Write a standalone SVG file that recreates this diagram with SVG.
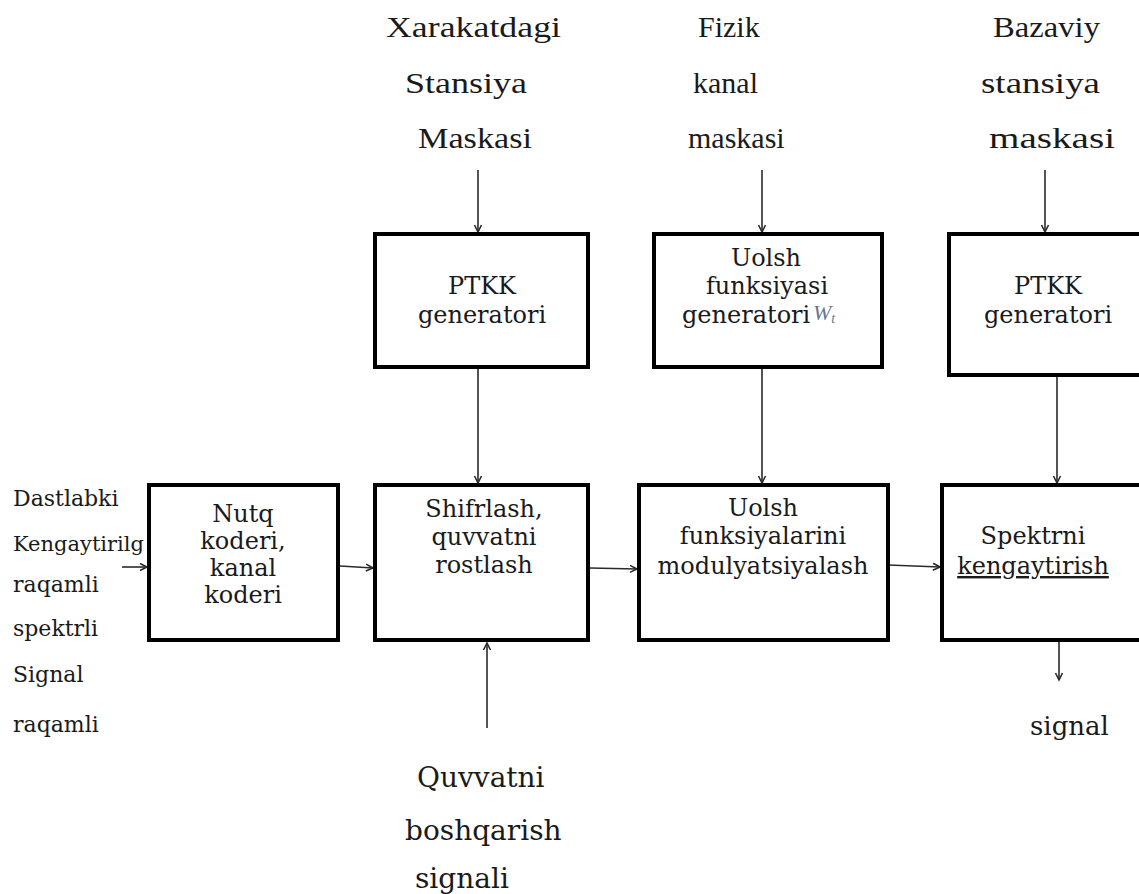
<svg xmlns="http://www.w3.org/2000/svg" width="1139" height="894" viewBox="0 0 1139 894">
<defs>
<style>
.box{fill:#fff;stroke:#000;stroke-width:4}
.bt{font-family:"DejaVu Serif","Liberation Serif",serif;font-size:24px;fill:#1a1a1a;text-anchor:middle}
.lt{font-family:"DejaVu Serif","Liberation Serif",serif;font-size:22px;fill:#1a1a1a}
.tt{font-family:"Liberation Serif","Times New Roman",serif;font-size:30px;fill:#1a1a1a}
.qt{font-family:"DejaVu Serif","Liberation Serif",serif;font-size:28px;fill:#1a1a1a}
.ln{stroke:#2a2a2a;stroke-width:1.6;fill:none}
</style>
<marker id="ah" markerWidth="10" markerHeight="10" refX="8" refY="5" orient="auto" markerUnits="userSpaceOnUse">
<path d="M1,1.5 L8,5 L1,8.5" fill="none" stroke="#2a2a2a" stroke-width="1.6"/>
</marker>
</defs>
<rect width="1139" height="894" fill="#fff"/>

<g id="labels-top">
<text class="tt" x="386" y="37" textLength="175" lengthAdjust="spacingAndGlyphs">Xarakatdagi</text>
<text class="tt" x="405" y="93" textLength="122" lengthAdjust="spacingAndGlyphs">Stansiya</text>
<text class="tt" x="418" y="148" textLength="114" lengthAdjust="spacingAndGlyphs">Maskasi</text>
<text class="tt" x="698" y="37">Fizik</text>
<text class="tt" x="693" y="93">kanal</text>
<text class="tt" x="688" y="148">maskasi</text>
<text class="tt" x="993" y="37" textLength="107" lengthAdjust="spacingAndGlyphs">Bazaviy</text>
<text class="tt" x="981" y="93" textLength="119" lengthAdjust="spacingAndGlyphs">stansiya</text>
<text class="tt" x="989" y="148" textLength="126" lengthAdjust="spacingAndGlyphs">maskasi</text>
</g>

<g id="labels-left">
<text class="lt" x="13" y="506">Dastlabki</text>
<text class="lt" x="13" y="551" style="font-size:21px">Kengaytirilg</text>
<text class="lt" x="13" y="592">raqamli</text>
<text class="lt" x="13" y="636">spektrli</text>
<text class="lt" x="13" y="682">Signal</text>
<text class="lt" x="13" y="732">raqamli</text>
</g>

<g id="label-bottom">
<text class="qt" x="417" y="787">Quvvatni</text>
<text class="qt" x="405" y="840">boshqarish</text>
<text class="qt" x="415" y="888">signali</text>
</g>

<g id="label-signal">
<text class="qt" x="1030" y="735" style="font-size:26px">signal</text>
</g>

<g id="connectors">
<line class="ln" x1="478" y1="170" x2="478" y2="232" marker-end="url(#ah)"/>
<line class="ln" x1="762" y1="170" x2="762" y2="232" marker-end="url(#ah)"/>
<line class="ln" x1="1045" y1="170" x2="1045" y2="232" marker-end="url(#ah)"/>
<line class="ln" x1="478" y1="369" x2="478" y2="483" marker-end="url(#ah)"/>
<line class="ln" x1="762" y1="369" x2="762" y2="483" marker-end="url(#ah)"/>
<line class="ln" x1="1057" y1="377" x2="1057" y2="483" marker-end="url(#ah)"/>
<line class="ln" x1="1059" y1="642" x2="1059" y2="680" marker-end="url(#ah)"/>
<line class="ln" x1="487" y1="728" x2="487" y2="643" marker-end="url(#ah)"/>
<line class="ln" x1="122" y1="567" x2="147" y2="567" marker-end="url(#ah)"/>
<line class="ln" x1="340" y1="566" x2="373" y2="568" marker-end="url(#ah)"/>
<line class="ln" x1="590" y1="568" x2="637" y2="569" marker-end="url(#ah)"/>
<line class="ln" x1="888" y1="565" x2="940" y2="567" marker-end="url(#ah)"/>
</g>

<g id="ptkk1">
<rect class="box" x="375" y="234" width="213" height="133"/>
<text class="bt" x="482" y="294">PTKK</text>
<text class="bt" x="482" y="323">generatori</text>
</g>

<g id="uolsh-gen">
<rect class="box" x="654" y="234" width="228" height="133"/>
<text class="bt" x="766" y="266">Uolsh</text>
<text class="bt" x="767" y="294">funksiyasi</text>
<text class="bt" x="682" y="323" style="text-anchor:start">generatori</text>
<text x="813" y="320" font-family="Liberation Serif, serif" font-style="italic" font-size="22" fill="#6a7690">W<tspan font-size="14" dy="3">t</tspan></text>
</g>

<g id="ptkk2">
<rect class="box" x="949" y="234" width="200" height="141"/>
<text class="bt" x="1048" y="294">PTKK</text>
<text class="bt" x="1048" y="323">generatori</text>
</g>

<g id="nutq">
<rect class="box" x="149" y="485" width="189" height="155"/>
<text class="bt" x="243" y="522">Nutq</text>
<text class="bt" x="243" y="549">koderi,</text>
<text class="bt" x="243" y="576">kanal</text>
<text class="bt" x="243" y="603">koderi</text>
</g>

<g id="shifrlash">
<rect class="box" x="375" y="485" width="213" height="155"/>
<text class="bt" x="484" y="517">Shifrlash,</text>
<text class="bt" x="484" y="545">quvvatni</text>
<text class="bt" x="484" y="573">rostlash</text>
</g>

<g id="uolsh-mod">
<rect class="box" x="639" y="485" width="249" height="155"/>
<text class="bt" x="763" y="516">Uolsh</text>
<text class="bt" x="763" y="544">funksiyalarini</text>
<text class="bt" x="763" y="574">modulyatsiyalash</text>
</g>

<g id="spektr">
<rect class="box" x="942" y="485" width="205" height="155"/>
<text class="bt" x="1033" y="544">Spektrni</text>
<text class="bt" x="1033" y="574" style="text-decoration:underline">kengaytirish</text>
</g>
</svg>
